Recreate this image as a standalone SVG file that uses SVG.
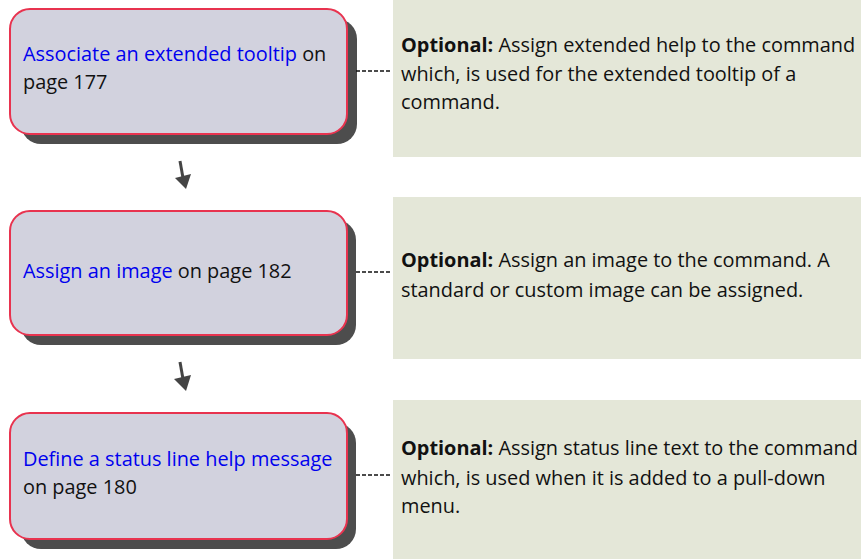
<svg xmlns="http://www.w3.org/2000/svg" width="861" height="559" viewBox="0 0 861 559">
<style>
.shadow{fill:#4d4d4d}
.box{fill:#d2d2de;stroke:#e8334f;stroke-width:2}
.panel{fill:#e4e7d8}
.t{font-family:"Open Sans","Liberation Sans",sans-serif;font-size:19.9px;fill:#111}
.link{fill:#0000ee}
.b{font-weight:bold}
.dash{stroke:#111;stroke-width:1.4;stroke-dasharray:4 2;fill:none}
.arr{stroke:#444;stroke-width:3;fill:none}
.head{fill:#444}
</style>
<rect width="861" height="559" fill="#fff"/>
<g id="node1">
<rect class="shadow" x="21" y="19" width="336" height="125" rx="20"/>
<rect class="box" x="10" y="9" width="337" height="125" rx="20"/>
<text class="t" x="23" y="61"><tspan class="link">Associate an extended tooltip</tspan> on</text>
<text class="t" x="23" y="89">page 177</text>
</g>
<g id="note1">
<rect class="panel" x="393" y="0" width="468" height="157"/>
<text class="t" x="401" y="52"><tspan class="b">Optional:</tspan> Assign extended help to the command</text>
<text class="t" x="401" y="81">which, is used for the extended tooltip of a</text>
<text class="t" x="401" y="109">command.</text>
</g>
<g id="node2">
<rect class="shadow" x="21" y="220" width="335" height="125" rx="20"/>
<rect class="box" x="10" y="211" width="337" height="124" rx="20"/>
<text class="t" x="23" y="278"><tspan class="link">Assign an image</tspan> on page 182</text>
</g>
<g id="note2">
<rect class="panel" x="393" y="197" width="468" height="162"/>
<text class="t" x="401" y="267"><tspan class="b">Optional:</tspan> Assign an image to the command. A</text>
<text class="t" x="401" y="297">standard or custom image can be assigned.</text>
</g>
<g id="node3">
<rect class="shadow" x="21" y="423" width="335" height="126" rx="20"/>
<rect class="box" x="10" y="413" width="337" height="126" rx="20"/>
<text class="t" x="23" y="466"><tspan class="link">Define a status line help message</tspan></text>
<text class="t" x="23" y="494">on page 180</text>
</g>
<g id="note3">
<rect class="panel" x="393" y="400" width="468" height="159"/>
<text class="t" x="401" y="455"><tspan class="b">Optional:</tspan> Assign status line text to the command</text>
<text class="t" x="401" y="485">which, is used when it is added to a pull-down</text>
<text class="t" x="401" y="513">menu.</text>
</g>
<g id="connectors">
<line class="dash" x1="356" y1="71" x2="390" y2="71"/>
<line class="dash" x1="356" y1="272" x2="390" y2="272"/>
<line class="dash" x1="356" y1="475" x2="390" y2="475"/>
<line class="arr" x1="180" y1="161" x2="183" y2="178"/>
<polygon class="head" points="175,178 191,174 186,189"/>
<line class="arr" x1="180" y1="362" x2="183" y2="379"/>
<polygon class="head" points="174,379 191,375 186,391"/>
</g>
</svg>
